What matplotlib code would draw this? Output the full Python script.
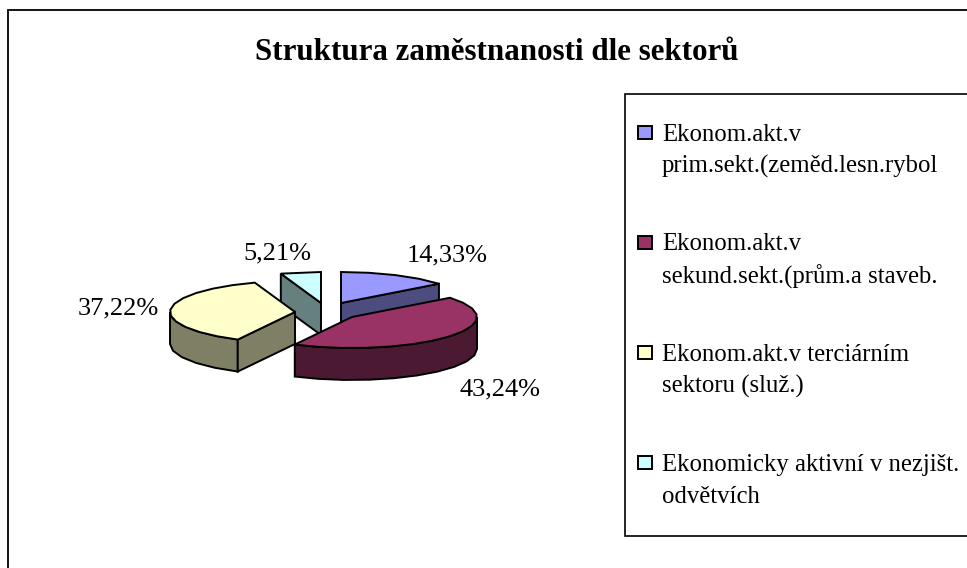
import numpy as np
import matplotlib
matplotlib.use("Agg")
import matplotlib.pyplot as plt
from matplotlib.patches import Polygon, Rectangle

plt.rcParams['font.family'] = ['Liberation Serif', 'DejaVu Serif']

title = 'Struktura zaměstnanosti dle sektorů'
values = [14.33, 43.24, 37.22, 5.21]
value_labels = ['14,33%', '43,24%', '37,22%', '5,21%']
legend_labels = ['Ekonom.akt.v\nprim.sekt.(zeměd.lesn.rybol',
                 'Ekonom.akt.v\nsekund.sekt.(prům.a staveb.',
                 'Ekonom.akt.v terciárním\nsektoru (služ.)',
                 'Ekonomicky aktivní v nezjišt.\nodvětvích']
top_colors = ['#9999FF', '#993366', '#FFFFCC', '#CCFFFF']
side_colors = ['#4C4C7F', '#4C1933', '#7F7F66', '#668080']

W, H = 967, 568
# pie layout in pixels
rx, ry, depth = 125, 31, 32
apex = [(341, 303), (352, 317), (295, 312), (321, 303)]
label_pos = [(447, 255), (500, 389), (118, 308), (277, 253)]
legend_y = [133, 243, 353, 463]

fig = plt.figure(figsize=(W / 100, H / 100), dpi=100)
ax = fig.add_axes([0, 0, 1, 1])
ax.set_xlim(0, W)
ax.set_ylim(H, 0)
ax.axis('off')

ax.add_patch(Rectangle((8, 10), W + 20, H + 20, fc='white', ec='black', lw=1.3))


def rim(cx, cy, a0, a1):
    # outer edge of a slice, a bit faceted like the original
    n = max(2, int(abs(a1 - a0) / 11) + 1)
    t = np.radians(np.linspace(a0, a1, n))
    return np.column_stack([cx + rx * np.sin(t), cy - ry * np.cos(t)])


ends = np.cumsum(values) / np.sum(values) * 360
starts = np.concatenate([[0], ends[:-1]])

# which end of the rim has a cut face looking at the viewer
cut_end = {0: -1, 2: 0, 3: 0}

# back slices first, maroon last because it hides the blue side
for i in [3, 0, 2, 1]:
    cx, cy = apex[i]
    a0, a1 = starts[i], ends[i]
    edge = rim(cx, cy, a0, a1)
    # outer wall, only the front half of the ellipse shows
    f0, f1 = max(a0, 90), min(a1, 270)
    if f1 > f0:
        wall = rim(cx, cy, f0, f1)
        pts = np.vstack([wall, (wall + [0, depth])[::-1]])
        ax.add_patch(Polygon(pts, fc=side_colors[i], ec='black', lw=1.4))
    if i in cut_end:
        p = edge[cut_end[i]]
        pts = [(cx, cy), p, (p[0], p[1] + depth), (cx, cy + depth)]
        ax.add_patch(Polygon(pts, fc=side_colors[i], ec='black', lw=1.4))
    ax.add_patch(Polygon(np.vstack([[cx, cy], edge]), fc=top_colors[i], ec='black', lw=1.4))

for lab, (x, y) in zip(value_labels, label_pos):
    ax.text(x, y, lab, fontsize=19, ha='center', va='center', color='black')

ax.text(497, 52, title, fontsize=22.3, fontweight='bold', ha='center', va='center')

# legend
ax.add_patch(Rectangle((625, 94), W, 442, fc='white', ec='black', lw=1.2))
for lab, col, y in zip(legend_labels, top_colors, legend_y):
    ax.add_patch(Rectangle((638, y - 7), 14, 13, fc=col, ec='black', lw=1.4))
    ax.text(662, y + 18, lab, fontsize=17.8, ha='left', va='center', linespacing=1.55)

fig.savefig('out.png', dpi=100)
